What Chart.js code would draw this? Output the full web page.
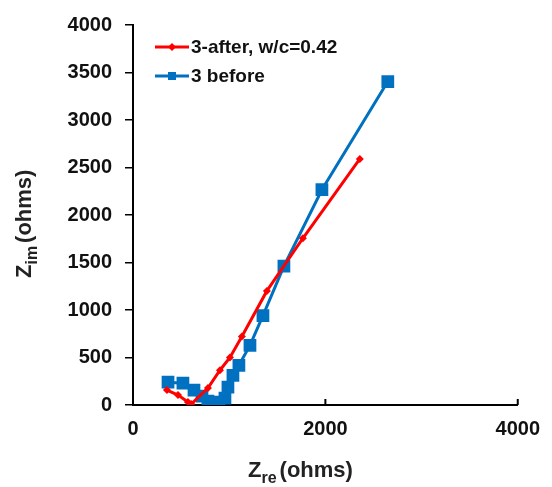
<!DOCTYPE html>
<html>
<head>
<meta charset="utf-8">
<script src="https://cdn.jsdelivr.net/npm/chart.js@4/dist/chart.umd.min.js"></script>
<style>
  html, body { margin: 0; padding: 0; background: #fff; }
  #wrap { width: 552px; height: 487px; }
</style>
</head>
<body>
<div id="wrap"><canvas id="chart" width="552" height="487"></canvas></div>
<script>
// Данные (Zre, Zim в омах)
const afterLabel = '3-after, w/c=0.42';
const afterRe = [353, 468, 571, 605, 779, 904, 1008, 1132, 1392, 1766, 2358];
const afterIm = [157, 104, 31, 10, 178, 366, 501, 720, 1201, 1755, 2590];

const beforeLabel = '3 before';
const beforeRe = [364, 519, 634, 717, 779, 831, 894, 956, 987, 1039, 1101, 1216, 1351, 1569, 1964, 2649];
const beforeIm = [240, 230, 157, 94, 42, 21, 31, 73, 188, 313, 418, 627, 940, 1462, 2266, 3405];

const xTicks = [0, 2000, 4000];
const yTicks = [0, 500, 1000, 1500, 2000, 2500, 3000, 3500, 4000];

const RED = '#ff0000';
const BLUE = '#0070c0';
const FONT = "'Liberation Sans', Arial, sans-serif";

function toPoints(xs, ys) {
    return xs.map((x, i) => ({ x: x, y: ys[i] }));
}

// Подписи осей с индексами и легенда внутри области графика
const decorPlugin = {
    id: 'decor',
    afterDraw(chart) {
        const ctx = chart.ctx;
        const xs = chart.scales.x;
        const area = chart.chartArea;
        ctx.save();

        // внутренние засечки оси X
        ctx.strokeStyle = '#000';
        ctx.lineWidth = 2;
        xTicks.forEach(v => {
            const px = xs.getPixelForValue(v);
            ctx.beginPath();
            ctx.moveTo(px, area.bottom);
            ctx.lineTo(px, area.bottom - 6);
            ctx.stroke();
        });

        // подпись оси X
        ctx.fillStyle = '#222';
        ctx.textAlign = 'left';
        drawSubTitle(ctx, 248, 477, 're');

        // подпись оси Y (повернутая)
        ctx.save();
        ctx.translate(31, 278);
        ctx.rotate(-Math.PI / 2);
        drawSubTitle(ctx, 0, 0, 'im');
        ctx.restore();

        // легенда
        const rows = [
            { label: afterLabel, color: RED, y: 47, marker: 'diamond' },
            { label: beforeLabel, color: BLUE, y: 76, marker: 'square' }
        ];
        rows.forEach(r => {
            ctx.strokeStyle = r.color;
            ctx.fillStyle = r.color;
            ctx.lineWidth = 3;
            ctx.beginPath();
            ctx.moveTo(155, r.y);
            ctx.lineTo(189, r.y);
            ctx.stroke();
            if (r.marker === 'square') {
                ctx.fillRect(168, r.y - 4, 8, 8);
            } else {
                ctx.beginPath();
                ctx.moveTo(172, r.y - 4);
                ctx.lineTo(176, r.y);
                ctx.lineTo(172, r.y + 4);
                ctx.lineTo(168, r.y);
                ctx.closePath();
                ctx.fill();
            }
            ctx.fillStyle = '#111';
            ctx.font = 'bold 19px ' + FONT;
            ctx.textBaseline = 'middle';
            ctx.fillText(r.label, 191, r.y + 1);
        });
        ctx.restore();
    }
};

function drawSubTitle(ctx, x, y, sub) {
    ctx.font = 'bold 22px ' + FONT;
    ctx.textBaseline = 'alphabetic';
    ctx.fillText('Z', x, y);
    let cx = x + ctx.measureText('Z').width;
    ctx.font = 'bold 16px ' + FONT;
    ctx.fillText(sub, cx, y + 6);
    cx += ctx.measureText(sub).width + 3;
    ctx.font = 'bold 22px ' + FONT;
    ctx.fillText('(ohms)', cx, y);
}

new Chart(document.getElementById('chart').getContext('2d'), {
    type: 'scatter',
    data: {
        datasets: [
            {
                label: afterLabel,
                data: toPoints(afterRe, afterIm),
                showLine: true,
                borderColor: RED,
                backgroundColor: RED,
                borderWidth: 3,
                pointStyle: 'rectRot',
                pointRadius: 4,
                pointBorderWidth: 0
            },
            {
                label: beforeLabel,
                data: toPoints(beforeRe, beforeIm),
                showLine: true,
                borderColor: BLUE,
                backgroundColor: BLUE,
                borderWidth: 3,
                pointStyle: 'rect',
                pointRadius: 9,
                pointBorderWidth: 0
            }
        ]
    },
    options: {
        responsive: false,
        animation: false,
        layout: { padding: { top: 22, right: 34, left: 0, bottom: 0 } },
        plugins: {
            legend: { display: false },
            tooltip: { enabled: false }
        },
        scales: {
            x: {
                type: 'linear',
                min: 0,
                max: 4000,
                afterBuildTicks: scale => { scale.ticks = xTicks.map(v => ({ value: v })); },
                afterFit: scale => { scale.height = 82; },
                border: { display: true, color: '#000', width: 2 },
                grid: { display: true, drawOnChartArea: false, drawTicks: false },
                ticks: {
                    padding: 12,
                    color: '#111',
                    font: { family: FONT, size: 20, weight: 'bold' },
                    callback: v => String(v)
                }
            },
            y: {
                type: 'linear',
                min: 0,
                max: 4000,
                afterBuildTicks: scale => { scale.ticks = yTicks.map(v => ({ value: v })); },
                afterFit: scale => { scale.width = 133; },
                border: { display: true, color: '#000', width: 2 },
                grid: { display: true, drawOnChartArea: false, drawTicks: true, tickLength: 8, color: '#000', lineWidth: 1.5 },
                ticks: {
                    padding: 13,
                    color: '#111',
                    font: { family: FONT, size: 20, weight: 'bold' },
                    callback: v => String(v)
                }
            }
        }
    },
    plugins: [decorPlugin]
});
</script>
</body>
</html>
